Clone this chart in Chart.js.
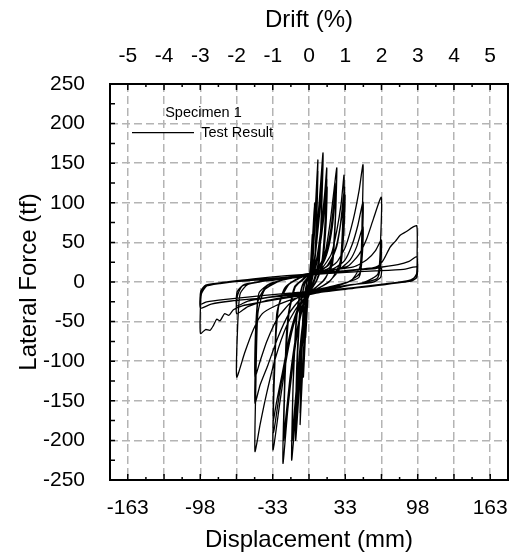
<!DOCTYPE html>
<html>
<head>
<meta charset="utf-8">
<script src="https://cdn.jsdelivr.net/npm/chart.js@4.4.1/dist/chart.umd.min.js"></script>
<style>
  html, body { margin: 0; padding: 0; background: #fff; }
</style>
</head>
<body>
<canvas id="hysteresis" width="513" height="560"></canvas>
<script>
// axis ticks
const mmPerDrift = 32.6;
const driftTicks = [-5, -4, -3, -2, -1, 0, 1, 2, 3, 4, 5];
const driftMinor = [-4.5, -3.5, -2.5, -1.5, -0.5, 0.5, 1.5, 2.5, 3.5, 4.5];
const dispTickLabels = ['-163', '', '-98', '', '-33', '', '33', '', '98', '', '163'];
const forceTicks = [-250, -200, -150, -100, -50, 0, 50, 100, 150, 200, 250];
const forceMinor = [-225, -175, -125, -75, -25, 25, 75, 125, 175, 225];

// test record, displacement (mm) / lateral force (tf), one pair of arrays per drift level
const disp010 = [0, 1.5, 3, 2.5, 1, -1, -3, -2.5, -1, 0, 1.5, 3, 2.4, 0.8, -1, -3, -2.4, -0.8, 0];
const force010 = [0, 25, 60, 30, 5, -20, -70, -35, -8, 0, 22, 55, 25, 2, -18, -65, -30, -5, 0];

const disp015 = [1, 3, 5, 4.2, 2.5, 0, -2, -5, -4.2, -2.5, 0, 1, 3, 5, 4.2, 2.5, 0, -2, -5, -4.2, -2.5, 0];
const force015 = [10, 50, 100, 50, 10, -10, -35, -120, -60, -15, 2, 8, 45, 92, 45, 8, -10, -32, -110, -55, -12, 2];

const disp025 = [2, 4, 6, 8, 7, 5, 2, -1, -3, -6, -8, -7, -5, -2, 0,
                 2, 4, 6, 8, 7, 5, 2, -1, -3, -6, -8, -7, -5, -2, 0];
const force025 = [10, 45, 100, 154, 90, 25, 0, -15, -50, -120, -180, -110, -35, 0, 5,
                  8, 40, 90, 140, 80, 20, -2, -15, -45, -110, -165, -100, -30, 0, 4];

const disp0375 = [2, 5, 8, 10.5, 12.6, 11.5, 9, 5, 1, -3, -6, -9, -12, -11, -8, -4, 0,
                  2, 5, 8, 10.5, 12.2, 11.2, 9, 5, 1, -3, -6, -9, -12, -11, -8, -4, 0,
                  2, 5, 8, 10.5, 12.2, 11.2, 9, 5, 1, -3, -6, -9, -12, -11, -8, -4, 0];
const force0375 = [8, 30, 80, 125, 163, 100, 30, 5, -10, -35, -80, -140, -200, -120, -40, -3, 6,
                   6, 28, 72, 112, 150, 90, 25, 3, -10, -32, -72, -128, -185, -110, -35, -2, 5,
                   5, 25, 65, 100, 138, 82, 22, 2, -10, -30, -68, -120, -175, -105, -32, -2, 5];

const disp050 = [3, 7, 11, 14, 16, 15, 12, 7, 2, -3, -7, -11, -15.6, -14.5, -11, -6, 0,
                 3, 7, 11, 14, 16, 15, 12, 7, 2, -3, -7, -11, -15.2, -14.2, -11, -6, 0,
                 3, 7, 11, 14, 16.3, 15.3, 12, 7, 2, -3, -7, -11, -15, -14, -11, -6, 0];
const force050 = [10, 30, 70, 110, 144, 90, 30, 3, -10, -30, -80, -150, -225, -140, -45, -5, 8,
                  8, 26, 62, 98, 130, 80, 25, 2, -10, -28, -72, -135, -200, -125, -40, -4, 7,
                  8, 24, 56, 90, 120, 72, 22, 2, -10, -27, -68, -128, -190, -118, -38, -4, 7];

const disp075 = [3, 10, 15, 19, 22, 25, 24, 21, 15, 7, 0, -5, -10, -15, -19, -23.4, -22.4, -20, -14, -7, 0,
                 5, 11, 16, 20, 24.5, 23.5, 21, 14, 6, 0, -6, -11, -16, -22.8, -21.8, -19, -13, -6, 0,
                 6, 12, 17, 21, 24.5, 23.5, 21, 13, 5, 0, -6, -12, -17, -22.5, -21.5, -18, -12, -5, 0];
const force075 = [10, 22, 40, 75, 110, 144, 90, 30, 5, -6, -15, -30, -60, -110, -160, -229, -150, -60, -10, 2, 10,
                  14, 22, 40, 70, 125, 75, 25, 3, -7, -14, -30, -65, -115, -200, -130, -45, -6, 3, 10,
                  14, 22, 40, 70, 115, 70, 22, 2, -8, -14, -32, -70, -120, -190, -120, -40, -5, 3, 10];

const disp100 = [5, 12, 20, 25, 29, 31.5, 30.5, 28, 20, 10, 0, -7, -14, -20, -26, -32.4, -31.4, -29, -22, -12, 0,
                 8, 16, 23, 28, 32, 31, 28, 18, 8, 0, -8, -15, -22, -27, -32, -31, -28, -20, -10, 0,
                 10, 18, 25, 29, 32.4, 31.4, 28, 17, 7, 0, -9, -17, -24, -29, -32.2, -31.2, -27, -18, -8, 0];
const force100 = [12, 18, 35, 65, 100, 135, 80, 25, 3, -7, -15, -28, -55, -95, -150, -212, -130, -40, -8, 3, 10,
                  14, 20, 38, 70, 120, 70, 20, 0, -8, -14, -28, -58, -105, -145, -190, -115, -35, -5, 4, 10,
                  14, 22, 45, 78, 110, 65, 18, -1, -9, -14, -30, -65, -115, -150, -175, -105, -28, -3, 5, 10];

const disp150 = [8, 16, 25, 33, 40, 45, 48.6, 47.8, 46, 38, 25, 10, 0, -10, -20, -30, -38, -44, -48.6, -47.8, -46, -40, -25, -10, 0,
                 10, 22, 32, 39, 44, 48.6, 48, 46, 35, 20, 5, -8, -18, -28, -37, -44, -48.6, -48, -46, -38, -22, -8, 0,
                 15, 28, 37, 43, 48.6, 48, 45, 30, 12, 0, -15, -28, -38, -44, -48.6, -48, -45, -35, -15, 0];
const force150 = [13, 16, 25, 45, 80, 115, 148, 80, 20, 2, -5, -10, -16, -30, -55, -95, -140, -180, -214, -130, -40, -10, 2, 7, 11,
                  13, 17, 27, 48, 72, 101, 55, 12, 0, -6, -12, -22, -40, -70, -105, -130, -153, -90, -25, -5, 3, 7, 10,
                  13, 17, 28, 45, 70, 35, 6, -2, -8, -13, -24, -45, -75, -100, -120, -60, -14, -2, 5, 9];

const disp200 = [10, 20, 35, 45, 52, 58, 65, 64.3, 62, 50, 30, 10, 0, -15, -30, -42, -50, -58, -65, -64.3, -62, -55, -35, -15, 0,
                 20, 40, 52, 60, 65, 64.5, 61, 45, 20, 0, -20, -40, -55, -65, -64.5, -60, -45, -20, 0,
                 25, 50, 60, 65, 64.5, 58, 35, 10, 0, -30, -55, -65, -64.5, -58, -35, -10, 0];
const force200 = [12, 15, 20, 35, 55, 80, 107, 50, 10, 0, -6, -12, -16, -22, -30, -40, -60, -90, -120, -60, -15, -3, 3, 7, 11,
                  15, 19, 28, 40, 53, 22, 4, -2, -8, -14, -19, -24, -31, -40, -18, -5, 0, 5, 9,
                  13, 16, 17, 18, 6, 0, -4, -10, -12, -18, -24, -30, -12, -3, 2, 6, 8];

const disp300 = [10, 30, 50, 62, 67, 73, 78, 82, 88, 93, 97, 97.3, 96.5, 90, 70, 40, 10, 0,
                 -20, -45, -60, -68, -72, -76, -80, -83, -86, -89, -93, -97.6, -97.8, -96.8, -92, -80, -50, -20, 0,
                 30, 60, 80, 90, 97, 97.3, 93, 70, 40, 0, -40, -70, -88, -97.6, -97.6, -94, -80, -50, -20, 0,
                 30, 60, 85, 97, 97, 92, 60, 20, 0, -40, -75, -92, -97.6, -97.4, -93, -70, -40, 0];
const force300 = [12, 14, 16, 20, 28, 44, 52, 59, 64, 69, 71, 40, 8, 2, -3, -8, -13, -16,
                  -20, -26, -30, -35, -42, -40, -49, -47, -55, -61, -60, -65, -40, -15, -5, -1, 4, 8, 10,
                  14, 18, 22, 26, 32, 12, 3, -2, -7, -14, -20, -24, -28, -33, -15, -6, -2, 3, 6, 9,
                  12, 14, 16, 19, 6, 1, -4, -10, -12, -17, -22, -25, -28, -12, -4, 0, 3, 7];

const levels = [
  [disp010, force010], [disp015, force015], [disp025, force025], [disp0375, force0375],
  [disp050, force050], [disp075, force075], [disp100, force100], [disp150, force150],
  [disp200, force200], [disp300, force300]
];

let testPoints = [];
levels.forEach(([d, f]) => {
  const n = Math.min(d.length, f.length);
  for (let i = 0; i < n; i++) testPoints.push({ x: d[i], y: f[i] });
});

const fontFamily = '"Liberation Sans", Arial, sans-serif';
const xLimit = 179;

// keep the in-plot legend anchored to the plot area (title sits a bit right of centre)
const legendInPlot = {
  id: 'legendInPlot',
  afterLayout(chart) {
    const lg = chart.legend;
    if (!lg) return;
    const h = lg.height;
    lg.top = chart.chartArea.top;
    lg.bottom = lg.top + h;
    lg.width += 14;
    lg.right = lg.left + lg.width;
  }
};

// frame and inward tick marks
const frameTicks = {
  id: 'frameTicks',
  afterDatasetsDraw(chart) {
    const ctx = chart.ctx;
    const a = chart.chartArea;
    const xs = chart.scales.x;
    const ys = chart.scales.y;
    ctx.save();
    ctx.strokeStyle = '#000';
    ctx.lineWidth = 1.5;
    ctx.beginPath();
    driftTicks.forEach(d => {
      const px = xs.getPixelForValue(d * mmPerDrift);
      ctx.moveTo(px, a.bottom); ctx.lineTo(px, a.bottom - 6);
      ctx.moveTo(px, a.top); ctx.lineTo(px, a.top + 6);
    });
    driftMinor.forEach(d => {
      const px = xs.getPixelForValue(d * mmPerDrift);
      ctx.moveTo(px, a.bottom); ctx.lineTo(px, a.bottom - 3);
      ctx.moveTo(px, a.top); ctx.lineTo(px, a.top + 3);
    });
    forceTicks.concat(forceMinor).forEach(v => {
      const py = ys.getPixelForValue(v);
      ctx.moveTo(a.left, py); ctx.lineTo(a.left + 5, py);
    });
    ctx.stroke();
    ctx.lineWidth = 2;
    ctx.strokeRect(a.left, a.top, a.right - a.left, a.bottom - a.top);
    ctx.restore();
  }
};

const noEdgePadding = s => { s.paddingLeft = 0; s.paddingRight = 0; };

new Chart(document.getElementById('hysteresis'), {
  type: 'scatter',
  data: {
    datasets: [{
      label: 'Test Result',
      data: testPoints,
      showLine: true,
      borderColor: '#000',
      backgroundColor: '#000',
      borderWidth: 1.3,
      pointRadius: 0,
      pointStyle: 'line',
      tension: 0.2
    }]
  },
  options: {
    responsive: false,
    animation: false,
    events: [],
    layout: { padding: { right: 5 } },
    plugins: {
      tooltip: { enabled: false },
      legend: {
        position: 'chartArea',
        align: 'start',
        labels: {
          usePointStyle: true,
          pointStyleWidth: 62,
          boxHeight: 14,
          padding: 22,
          color: '#000',
          font: { size: 14.5, family: fontFamily }
        },
        title: {
          display: true,
          text: 'Specimen 1',
          color: '#000',
          padding: { top: 22, bottom: -20 },
          font: { size: 14.5, family: fontFamily }
        }
      }
    },
    scales: {
      x: {
        type: 'linear',
        position: 'bottom',
        min: -xLimit,
        max: xLimit,
        afterBuildTicks: s => { s.ticks = driftTicks.map(d => ({ value: d * mmPerDrift })); },
        afterFit: s => { s.height = 80; noEdgePadding(s); },
        ticks: {
          autoSkip: false,
          maxRotation: 0,
          padding: 16,
          color: '#000',
          font: { size: 21, family: fontFamily },
          callback: (v, i) => dispTickLabels[i]
        },
        grid: { color: '#b4b4b4', lineWidth: 1.5, drawTicks: false },
        border: { display: false, dash: [8, 4] },
        title: {
          display: true,
          text: 'Displacement (mm)',
          color: '#000',
          padding: { bottom: 5 },
          font: { size: 24, family: fontFamily }
        }
      },
      xTop: {
        type: 'linear',
        position: 'top',
        min: -xLimit / mmPerDrift,
        max: xLimit / mmPerDrift,
        afterBuildTicks: s => { s.ticks = driftTicks.map(d => ({ value: d })); },
        afterFit: s => { s.height = 84; noEdgePadding(s); },
        ticks: {
          autoSkip: false,
          maxRotation: 0,
          padding: 15,
          color: '#000',
          font: { size: 21, family: fontFamily },
          callback: v => String(v)
        },
        grid: { display: false, drawTicks: false },
        border: { display: false },
        title: {
          display: true,
          text: 'Drift (%)',
          color: '#000',
          padding: { top: 6 },
          font: { size: 24, family: fontFamily }
        }
      },
      y: {
        type: 'linear',
        position: 'left',
        min: -250,
        max: 250,
        afterBuildTicks: s => { s.ticks = forceTicks.map(v => ({ value: v })); },
        afterFit: s => { s.width = 110; },
        ticks: {
          padding: 25,
          color: '#000',
          font: { size: 21, family: fontFamily },
          callback: v => String(v)
        },
        grid: { color: '#b4b4b4', lineWidth: 1.5, drawTicks: false },
        border: { display: false, dash: [8, 4] },
        title: {
          display: true,
          text: 'Lateral Force (tf)',
          color: '#000',
          padding: { top: 15 },
          font: { size: 24, family: fontFamily }
        }
      }
    }
  },
  plugins: [legendInPlot, frameTicks]
});
</script>
</body>
</html>
